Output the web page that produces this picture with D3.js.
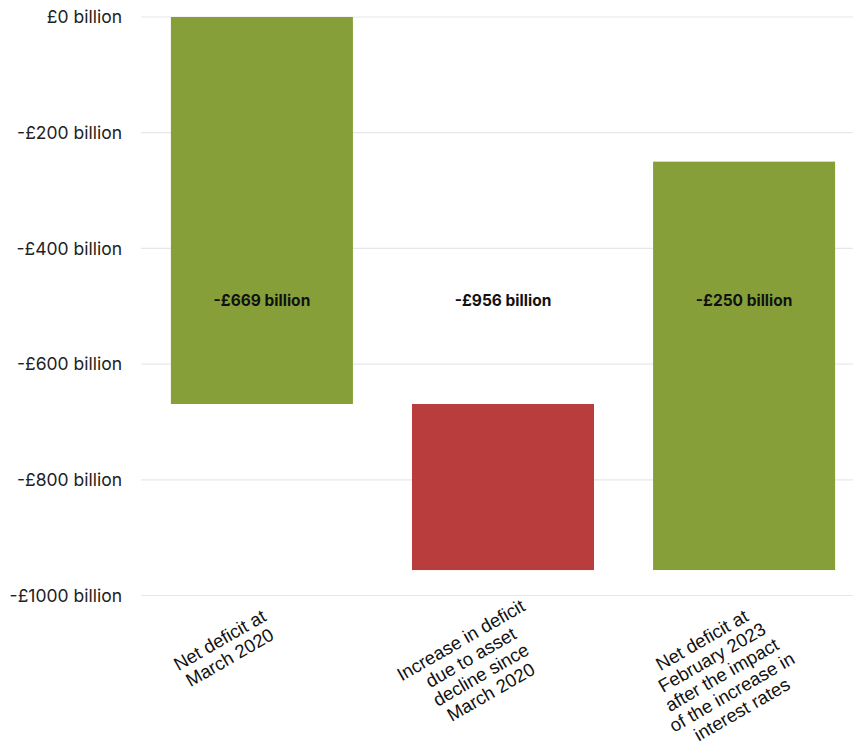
<!DOCTYPE html>
<html>
<head>
<meta charset="utf-8">
<script src="https://cdn.jsdelivr.net/npm/d3@7"></script>
<style>
  body { margin: 0; background: #fff; }
  svg { display: block; font-family: Inter, "Noto Sans", sans-serif; }
</style>
</head>
<body>
<svg id="chart" width="853" height="747"></svg>
<script>
// waterfall data (billions)
const categories = [
  ["Net deficit at", "March 2020"],
  ["Increase in deficit", "due to asset", "decline since", "March 2020"],
  ["Net deficit at", "February 2023", "after the impact", "of the increase in", "interest rates"],
];
const barStart = [0, -669, -956];
const barEnd = [-669, -956, -250];
const barLabels = ["-£669 billion", "-£956 billion", "-£250 billion"];
const barKind = ["total", "change", "total"];
const yTicks = [0, -200, -400, -600, -800, -1000];

const colorByKind = { total: "#879f39", change: "#b93d3c" };

const svg = d3.select("#chart");
const margin = { top: 17, left: 141 };
const plotBottom = 595.5;

const x = d3.scaleBand()
  .domain(d3.range(categories.length))
  .range([margin.left, 865])
  .paddingInner(0.245)
  .paddingOuter(0.124);

const y = d3.scaleLinear().domain([0, -1000]).range([margin.top, plotBottom]);

// gridlines + tick labels
const grid = svg.append("g");
yTicks.forEach((t) => {
  grid.append("line")
    .attr("x1", margin.left).attr("x2", 853)
    .attr("y1", y(t)).attr("y2", y(t))
    .attr("stroke", "#e8e8e8").attr("stroke-width", 1.2);
  grid.append("text")
    .attr("x", 122).attr("y", y(t))
    .attr("dy", "0.36em")
    .attr("text-anchor", "end")
    .attr("font-size", 17.5)
    .attr("fill", "#222")
    .text((t < 0 ? "-£" : "£") + Math.abs(t) + " billion");
});

// bars
svg.append("g").selectAll("rect")
  .data(barStart)
  .join("rect")
  .attr("x", (d, i) => x(i))
  .attr("width", x.bandwidth())
  .attr("y", (d, i) => y(Math.max(d, barEnd[i])))
  .attr("height", (d, i) => Math.abs(y(d) - y(barEnd[i])))
  .attr("fill", (d, i) => colorByKind[barKind[i]]);

// value labels across middle
svg.append("g").selectAll("text")
  .data(barLabels)
  .join("text")
  .attr("x", (d, i) => x(i) + x.bandwidth() / 2)
  .attr("y", y(-500))
  .attr("text-anchor", "middle")
  .attr("font-size", 15.5)
  .attr("font-weight", 700)
  .attr("fill", "#111")
  .text((d) => d);

// rotated category labels, centred lines
const lineH = 20;
categories.forEach((lines, i) => {
  const cx = x(i) + x.bandwidth() / 2;
  const txt = svg.append("text")
    .attr("transform", `translate(${cx - 46},${plotBottom + 38}) rotate(-30)`)
    .attr("font-family", "'Liberation Sans', Arial, sans-serif")
    .attr("font-size", 18.5)
    .attr("fill", "#111")
    .attr("text-anchor", "middle");
  lines.forEach((l, j) => {
    txt.append("tspan").attr("x", 0).attr("y", 14 + j * lineH).text(l);
  });
});
</script>
</body>
</html>
